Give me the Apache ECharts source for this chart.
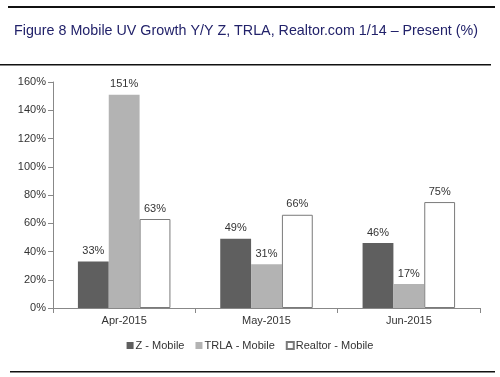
<!DOCTYPE html>
<html>
<head>
<meta charset="utf-8">
<script src="https://cdn.jsdelivr.net/npm/echarts@6/dist/echarts.min.js"></script>
<style>
html, body { margin: 0; padding: 0; background: #fff; }
#chart { width: 500px; height: 377px; }
</style>
</head>
<body>
<div id="chart"></div>
<script>
var categories = ['Apr-2015', 'May-2015', 'Jun-2015'];
var zMobile = [33, 49, 46];
var trlaMobile = [151, 31, 17];
var realtorMobile = [63, 66, 75];
var yTicks = [0, 20, 40, 60, 80, 100, 120, 140, 160];

var myChart = echarts.init(document.getElementById('chart'));

var labelStyle = {
    show: true,
    position: 'top',
    distance: 5,
    color: '#333',
    fontSize: 11,
    fontFamily: 'Liberation Sans',
    formatter: '{c}%'
};

var option = {
    animation: false,
    backgroundColor: '#fff',
    title: {
        text: 'Figure 8 Mobile UV Growth Y/Y Z, TRLA, Realtor.com 1/14 \u2013 Present (%)',
        left: 9,
        top: 19,
        textStyle: {
            color: '#22226a',
            fontSize: 14.3,
            fontWeight: 'normal',
            fontFamily: 'Liberation Sans'
        }
    },
    graphic: [
        { type: 'rect', shape: { x: 8, y: 6, width: 487, height: 2 }, style: { fill: '#111' } },
        { type: 'rect', shape: { x: 0, y: 64, width: 491, height: 1.5 }, style: { fill: '#111' } },
        { type: 'rect', shape: { x: 10, y: 371, width: 485, height: 1.5 }, style: { fill: '#111' } }
    ],
    legend: {
        bottom: 21,
        left: 'center',
        itemWidth: 7,
        itemHeight: 7,
        itemGap: 11,
        icon: 'rect',
        textStyle: { color: '#333', fontSize: 11, fontFamily: 'Liberation Sans', padding: [0, 0, 0, -3] },
        data: ['Z - Mobile', 'TRLA - Mobile', 'Realtor - Mobile']
    },
    grid: { left: 53, right: 20, top: 82, bottom: 69 },
    xAxis: {
        type: 'category',
        data: categories,
        axisLine: { lineStyle: { color: '#888' } },
        axisTick: { show: true, length: 5, lineStyle: { color: '#888' } },
        axisLabel: { color: '#333', fontSize: 11, fontFamily: 'Liberation Sans', margin: 7 }
    },
    yAxis: {
        type: 'value',
        min: yTicks[0],
        max: yTicks[yTicks.length - 1],
        interval: 20,
        axisLine: { show: true, lineStyle: { color: '#888' } },
        axisTick: { show: true, length: 5, lineStyle: { color: '#888' } },
        splitLine: { show: false },
        axisLabel: { color: '#333', fontSize: 11, fontFamily: 'Liberation Sans', formatter: '{value}%', margin: 7 }
    },
    series: [
        {
            name: 'Z - Mobile',
            type: 'bar',
            data: zMobile,
            barGap: '0%',
            barCategoryGap: '35%',
            itemStyle: { color: '#5f5f5f' },
            label: labelStyle
        },
        {
            name: 'TRLA - Mobile',
            type: 'bar',
            data: trlaMobile,
            itemStyle: { color: '#b3b3b3' },
            label: labelStyle
        },
        {
            name: 'Realtor - Mobile',
            type: 'bar',
            data: realtorMobile,
            itemStyle: { color: '#ffffff', borderColor: '#7a7a7a', borderWidth: 1 },
            label: labelStyle
        }
    ]
};

myChart.setOption(option);
</script>
</body>
</html>
